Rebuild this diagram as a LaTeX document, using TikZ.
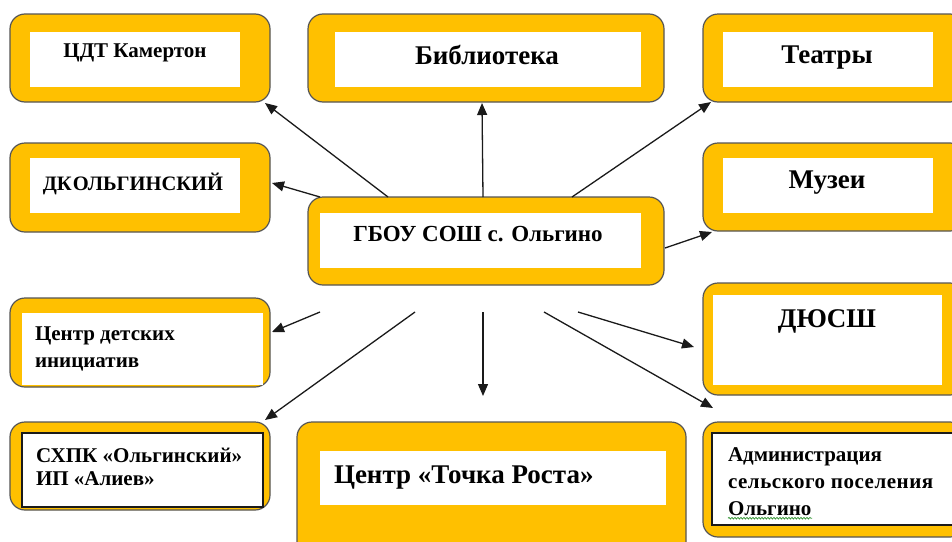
\documentclass[tikz,border=0pt]{standalone}
\usepackage{fontspec}
\setmainfont{Liberation Serif}
\usetikzlibrary{arrows.meta,decorations.pathmorphing}
\definecolor{gold}{HTML}{FFC000}
\definecolor{edgegray}{HTML}{555555}
\definecolor{linecol}{HTML}{1A1A1A}
\definecolor{spellgreen}{HTML}{3C9A3C}
\begin{document}
\begin{tikzpicture}[x=1pt,y=-1pt,
  obox/.style={draw=edgegray, line width=1.2pt, fill=gold, rounded corners=15pt, inner sep=0pt, outer sep=0pt},
  wbox/.style={fill=white, inner sep=0pt, outer sep=0pt},
  wboxb/.style={fill=white, draw=linecol, line width=1.6pt, inner sep=0pt, outer sep=0pt},
  txt/.style={inner sep=0pt, outer sep=0pt, font=\bfseries},
  fbig/.style={font=\fontsize{27}{31}\selectfont\bfseries},
  fmid/.style={font=\fontsize{20.5}{25}\selectfont\bfseries},
  fsm/.style={font=\fontsize{21}{25}\selectfont\bfseries},
  fsp/.style={font=\fontsize{21}{25}\selectfont\bfseries\addfontfeature{LetterSpace=2.5}},
  arr/.style={draw=linecol, line width=1.3pt, -{Triangle[length=12pt,width=10pt]}}
]
\useasboundingbox (0,0) rectangle (952,541);
\clip (0,0) rectangle (952,541);

% outer boxes
\node[obox, minimum width=260pt, minimum height=88pt] (cdt) at (140,58) {};
\node[obox, minimum width=356pt, minimum height=88pt] (lib) at (486,58) {};
\node[obox, minimum width=262pt, minimum height=88pt] (teat) at (834,58) {};
\node[obox, minimum width=260pt, minimum height=89pt] (dk) at (140,187.5) {};
\node[obox, minimum width=262pt, minimum height=88pt] (muz) at (834,187) {};
\node[obox, minimum width=356pt, minimum height=88pt] (hub) at (486,241) {};
\node[obox, minimum width=260pt, minimum height=89pt] (cdi) at (140,342.5) {};
\node[obox, minimum width=260pt, minimum height=88pt] (sxpk) at (140,466) {};
\node[obox, minimum width=389pt, minimum height=140pt] (tochka) at (491.5,492) {};
\node[obox, minimum width=262pt, minimum height=112pt] (dyussh) at (834,339) {};
\node[obox, minimum width=262pt, minimum height=115pt] (adm) at (834,479.5) {};

% inner white panels
\node[wbox, minimum width=210pt, minimum height=55pt] (cdtw) at (135,59.5) {};
\node[wbox, minimum width=306pt, minimum height=55pt] (libw) at (488,59.5) {};
\node[wbox, minimum width=210pt, minimum height=55pt] (teatw) at (828,59.5) {};
\node[wbox, minimum width=210pt, minimum height=55pt] (dkw) at (135,185.5) {};
\node[wbox, minimum width=210pt, minimum height=55pt] (muzw) at (828,185.5) {};
\node[wbox, minimum width=321pt, minimum height=55pt] (hubw) at (480.5,240.5) {};
\node[wbox, minimum width=241pt, minimum height=72pt] (cdiw) at (142.5,349) {};
\node[wboxb, minimum width=241pt, minimum height=74pt] (sxpkw) at (142.5,470) {};
\node[wbox, minimum width=346pt, minimum height=54pt] (tochkaw) at (493,478) {};
\node[wbox, minimum width=229pt, minimum height=90pt] (dyusshw) at (827.5,340) {};
\node[wboxb, minimum width=250pt, minimum height=92pt] (admw) at (837,479) {};

% texts
\node[txt, fsm, anchor=base] (cdtt) at (135,57) {ЦДТ Камертон};
\node[txt, fbig, anchor=base] (libt) at (487,64) {Библиотека};
\node[txt, fbig, anchor=base] (teatt) at (827,63) {Театры};
\node[txt, fmid, anchor=base] (dkt) at (133,190) {ДК\kern1pt ОЛЬГИНСКИЙ};
\node[txt, fbig, anchor=base] (muzt) at (827,188) {Музеи};
\node[txt, font=\fontsize{23}{27}\selectfont\bfseries, anchor=base] (hubt) at (478,241) {ГБОУ СОШ с. Ольгино};
\node[txt, fsm, anchor=base west] (cdit1) at (35,340) {Центр детских};
\node[txt, fsm, anchor=base west] (cdit2) at (35,367) {инициатив};
\node[txt, fsm, anchor=base west] (sxpkt1) at (36,462) {СХПК «Ольгинский»};
\node[txt, fsm, anchor=base west] (sxpkt2) at (36,485) {ИП «Алиев»};
\node[txt, fbig, anchor=base west] (tochkat) at (334,483) {Центр «Точка Роста»};
\node[txt, fbig, anchor=base] (dyussht) at (827,327) {ДЮСШ};
\node[txt, fsm, anchor=base west] (admt1) at (728,461) {Администрация};
\node[txt, fsp, anchor=base west] (admt2) at (728,488) {сельского поселения};
\node[txt, fsm, anchor=base west] (admt3) at (728,515) {Ольгино};
\draw[spellgreen, line width=0.8pt, decorate, decoration={snake, amplitude=0.8pt, segment length=3pt}]
  (admt3.south west) ++(0,3) -- ++(84,0);

% connector end points
\coordinate (s1) at (388,197); \coordinate (e1) at (265,103);
\coordinate (s2) at (320,197); \coordinate (e2) at (272,183);
\coordinate (s3) at (483,197); \coordinate (e3) at (482,103);
\coordinate (s4) at (572,197); \coordinate (e4) at (711,102);
\coordinate (s5) at (665,248); \coordinate (e5) at (712,232);
\coordinate (s6) at (320,312); \coordinate (e6) at (272,332);
\coordinate (s7) at (415,312); \coordinate (e7) at (265,420);
\coordinate (s8) at (483,312); \coordinate (e8) at (483,396);
\coordinate (s9) at (578,312); \coordinate (e9) at (694,347);
\coordinate (s10) at (544,312); \coordinate (e10) at (713,408);

\draw[arr] (s1) -- (e1);
\draw[arr] (s2) -- (e2);
\draw[arr] (s3) -- (e3);
\draw[arr] (s4) -- (e4);
\draw[arr] (s5) -- (e5);
\draw[arr] (s6) -- (e6);
\draw[arr] (s7) -- (e7);
\draw[arr] (s8) -- (e8);
\draw[arr] (s9) -- (e9);
\draw[arr] (s10) -- (e10);
\end{tikzpicture}
\end{document}
